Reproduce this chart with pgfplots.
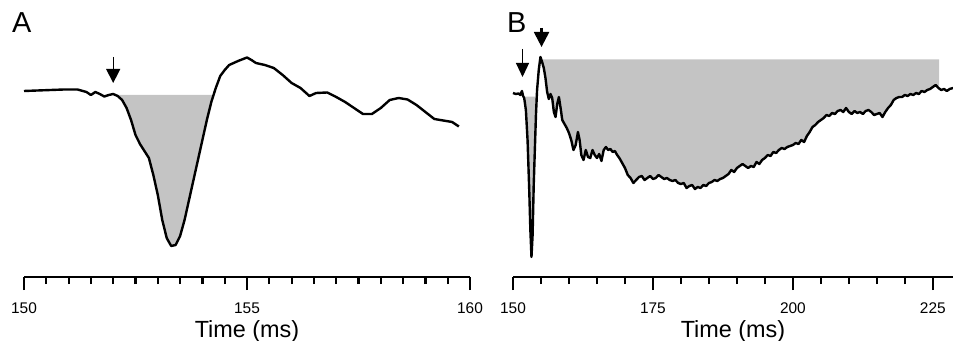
\documentclass[border=0pt]{standalone}
\usepackage{pgfplots}
\pgfplotsset{compat=1.18}
\usepackage{pgfplotstable}
\usepgfplotslibrary{fillbetween}
\usetikzlibrary{arrows.meta}
\usepackage{fontspec}
\setmainfont{Liberation Sans}
\definecolor{shade}{RGB}{196,196,196}

\pgfplotstableread{
t y
150.00 -91
150.3 -90.5
150.6 -90
150.9 -89.5
151.2 -89.5
151.4 -92
151.5 -95
151.6 -92
151.7 -94
151.8 -96.5
151.9 -95
152.0 -94
152.1 -96
152.2 -100
152.3 -108
152.4 -120
152.5 -135
152.6 -144
152.7 -151
152.8 -158
152.9 -175
153.0 -195
153.1 -220
153.2 -238
153.3 -246
153.4 -245
153.5 -236
153.6 -220
153.7 -200
153.8 -180
153.9 -160
154.0 -140
154.1 -120
154.2 -102
154.3 -88
154.4 -76
154.5 -70
154.6 -65
154.8 -61
155.0 -57.5
155.1 -60
155.2 -63
155.4 -65
155.6 -68
155.8 -75
156.0 -83
156.2 -88
156.4 -96
156.55 -93
156.8 -92.5
157.0 -97
157.2 -102
157.4 -108
157.6 -114
157.8 -114
158.0 -108
158.2 -100
158.4 -98
158.6 -99.5
158.8 -105
159.0 -112
159.2 -119
159.4 -120.5
159.6 -122
159.75 -126.5
}\dataA

\pgfplotstableread{
t y
150.0 -93
150.5 -94
151.0 -93.5
151.3 -95
151.6 -91
151.8 -96
152.0 -98
152.3 -110
152.6 -140
152.9 -190
153.1 -230
153.3 -257
153.5 -235
153.7 -185
153.9 -150
154.1 -115
154.3 -90
154.6 -70
154.9 -57
155.2 -62
155.5 -68
155.8 -78
156.1 -92
156.4 -99
156.7 -94
157.0 -98
157.3 -112
157.6 -117
157.9 -104
158.2 -97
158.5 -108
158.8 -120
159.2 -124
159.6 -128
160.0 -133
160.4 -140
160.8 -150
161.2 -145
161.6 -132
161.9 -140
162.2 -155
162.6 -160
163.0 -150
163.4 -157
163.8 -158
164.2 -150
164.6 -155
165.0 -158
165.4 -154
165.8 -161
166.2 -150
166.6 -147
167.0 -150
167.4 -149
167.8 -152
168.2 -151
168.6 -155
169.0 -158
169.5 -163
170.0 -168
170.5 -175
171.0 -178
171.5 -183
172.0 -180
172.5 -177
173.0 -176
173.5 -180
174.0 -178
174.5 -176
175.0 -179
175.5 -178
176.0 -175
176.5 -177
177.0 -179
177.5 -178
178.0 -180
178.5 -181
179.0 -180
179.5 -183
180.0 -184
180.5 -183
181.0 -188
181.5 -186
182.0 -185
182.5 -189
183.0 -187
183.5 -188
184.0 -185
184.5 -186
185.0 -183
185.5 -182
186.0 -180
186.5 -181
187.0 -179
187.5 -178
188.0 -176
188.5 -174
189.0 -170
189.5 -172
190.0 -168
190.5 -166
191.0 -164
191.5 -166
192.0 -168
192.5 -166
193.0 -167
193.5 -162
194.0 -164
194.5 -160
195.0 -158
195.5 -155
196.0 -156
196.5 -152
197.0 -153
197.5 -150
198.0 -148
198.5 -149
199.0 -147
199.5 -146
200.0 -145
200.5 -143
201.0 -144
201.5 -140
202.0 -142
202.5 -136
203.0 -132
203.5 -127
204.0 -125
204.5 -122
205.0 -120
205.5 -118
206.0 -115
206.5 -116
207.0 -113
207.5 -114
208.0 -111
208.5 -110
209.0 -112
209.5 -108
210.0 -112
210.5 -114
211.0 -111
211.5 -113
212.0 -112
212.5 -114
213.0 -111
213.5 -110
214.0 -112
214.5 -115
215.0 -114
215.5 -113
216.0 -117
216.5 -112
217.0 -108
217.5 -105
218.0 -100
218.5 -98
219.0 -97
219.5 -97
220.0 -95
220.5 -96
221.0 -94
221.5 -95
222.0 -93
222.5 -94
223.0 -91
223.5 -92
224.0 -90
224.5 -89
225.0 -87
225.5 -85
226.0 -88
226.5 -90
227.0 -89
227.5 -91
228.0 -89
228.6 -88
}\dataB

\pgfplotsset{panel/.style={
  scale only axis, height=267bp, ymin=-277, ymax=-10,
  axis y line=none, axis x line*=bottom,
  enlargelimits=false, clip=false,
  tick align=outside, major tick length=13bp, minor tick length=7bp,
  every tick/.style={black, line width=2.2bp},
  x axis line style={line width=2.2bp},
  /pgf/number format/assume math mode=true,
  xticklabel style={font=\fontsize{15.5}{17}\selectfont, anchor=base, yshift=-23bp},
  xlabel={Time (ms)},
  xlabel style={font=\fontsize{23.5}{26}\selectfont, at={(axis description cs:0.5,0)}, anchor=base, yshift=-60bp},
}}

\begin{document}
\begin{tikzpicture}
\begin{axis}[panel, at={(24bp,64bp)}, anchor=south west, width=446bp,
  xmin=150, xmax=160, xtick={150,155,160}, minor tick num=9]
  \addplot[draw=none, name path=cA] table[x=t,y=y]{\dataA};
  \addplot[draw=none, name path=bA] coordinates {(150,-95) (160,-95)};
  \addplot[fill=shade, draw=none] fill between[of=cA and bA, soft clip={domain=152.05:154.25}];
  \addplot[black, line width=2.4bp, line join=round] table[x=t,y=y]{\dataA};
  \draw[line width=1.2bp, -{Triangle[width=14bp,length=14bp]}] (axis cs:152.0,-57) -- (axis cs:152.0,-83);
\end{axis}
\begin{axis}[panel, at={(513bp,64bp)}, anchor=south west, width=440bp,
  xmin=150, xmax=228.6, xtick={150,175,200,225}, minor tick num=4]
  \addplot[draw=none, name path=cB] table[x=t,y=y]{\dataB};
  \addplot[draw=none, name path=bB1] coordinates {(150,-96.7) (229,-96.7)};
  \addplot[draw=none, name path=bB2] coordinates {(150,-59.3) (229,-59.3)};
  \addplot[fill=shade, draw=none] fill between[of=cB and bB1, soft clip={domain=152.2:154.2}];
  \addplot[fill=shade, draw=none] fill between[of=cB and bB2, soft clip={domain=155.0:226.1}];
  \addplot[black, line width=2.4bp, line join=round] table[x=t,y=y]{\dataB};
  \draw[line width=1.2bp, -{Triangle[width=13bp,length=14bp]}] (axis cs:151.7,-49) -- (axis cs:151.7,-77);
  \draw[line width=2.2bp, -{Triangle[width=15bp,length=15bp]}] (axis cs:155.1,-28) -- (axis cs:155.1,-47);
\end{axis}
\node[anchor=base west, inner sep=0pt, font=\fontsize{29}{31}\selectfont] at (12bp,308bp) {A};
\node[anchor=base west, inner sep=0pt, font=\fontsize{29}{31}\selectfont] at (507bp,308bp) {B};
\pgfresetboundingbox
\path[use as bounding box] (0,0) rectangle (953bp,341bp);
\end{tikzpicture}
\end{document}
